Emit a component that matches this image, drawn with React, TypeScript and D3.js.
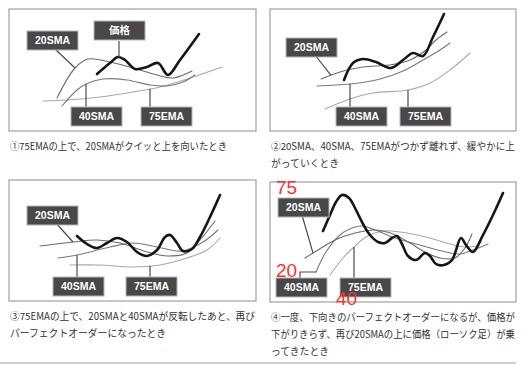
import React from 'react';
import * as d3 from 'd3';

type Pt = [number, number];

// series values, x = time, y = level (per panel, in panel units)
const p1Price: Pt[] = [[88, 57], [101, 68], [109, 74], [116, 71], [126, 62], [138, 64], [149, 68], [159, 56], [171, 71], [190, 97]];
const p1Sma20: Pt[] = [[48, 33], [66, 63], [79, 72], [101, 69], [124, 63], [148, 56], [164, 53], [183, 60]];
const p1Sma40: Pt[] = [[53, 25], [68, 41], [77, 47], [94, 52], [118, 51], [141, 46], [158, 45], [174, 49], [186, 56]];
const p1Ema75: Pt[] = [[34, 30], [58, 31], [91, 34], [124, 39], [151, 44], [184, 54], [213, 64]];

const p2Price: Pt[] = [[74, 51], [83, 68], [93, 72], [106, 69], [121, 63], [133, 71], [143, 78], [153, 75], [163, 94], [174, 117]];
const p2Sma20: Pt[] = [[51, 52], [70, 59], [93, 64], [120, 66], [140, 71], [156, 81], [166, 91], [177, 99]];
const p2Sma40: Pt[] = [[47, 45], [80, 47], [110, 52], [133, 60], [153, 71], [170, 81], [180, 88]];
const p2Ema75: Pt[] = [[55, 22], [80, 32], [103, 38], [138, 41], [160, 48], [180, 61], [200, 78]];

const p3Price: Pt[] = [[68, 65], [78, 57], [88, 53], [98, 58], [108, 63], [118, 59], [128, 49], [138, 45], [148, 51], [156, 64], [161, 66], [168, 58], [174, 50], [183, 52], [191, 64], [201, 84], [211, 106]];
const p3Sma20: Pt[] = [[31, 55], [64, 59], [88, 61], [111, 58], [138, 49], [158, 45], [178, 48], [191, 61], [206, 80]];
const p3Sma40: Pt[] = [[49, 43], [68, 46], [101, 54], [124, 58], [148, 54], [173, 50], [194, 59], [209, 71]];
const p3Ema75: Pt[] = [[61, 36], [91, 36], [124, 34], [151, 36], [178, 43], [198, 51], [211, 63]];

const p4Price: Pt[] = [[53, 71], [60, 87], [66, 100], [72, 107], [79, 104], [86, 92], [93, 78], [100, 67], [108, 60], [115, 59], [122, 64], [127, 66], [132, 58], [138, 46], [146, 42], [155, 49], [160, 46], [166, 38], [174, 37], [182, 42], [191, 64], [196, 57], [203, 50], [213, 67], [223, 87], [233, 109]];
const p4Sma20: Pt[] = [[35, 44], [48, 52], [65, 62], [85, 69], [105, 72], [123, 68], [140, 59], [155, 50], [170, 44], [185, 44], [195, 54], [202, 68]];
const p4Sma40: Pt[] = [[46, 30], [56, 50], [70, 67], [82, 74], [92, 76], [105, 72], [125, 64], [150, 57], [176, 50], [190, 48], [203, 52], [218, 58]];
const p4Ema75: Pt[] = [[60, 27], [73, 44], [84, 55], [96, 65], [113, 71], [130, 70], [156, 65], [180, 58], [195, 55], [208, 56]];

const captions1 = ['①75EMAの上で、20SMAがクイッと上を向いたとき'];
const captions2 = ['②20SMA、40SMA、75EMAがつかず離れず、緩やかに上', 'がっていくとき'];
const captions3 = ['③75EMAの上で、20SMAと40SMAが反転したあと、再び', 'パーフェクトオーダーになったとき'];
const captions4 = ['④一度、下向きのパーフェクトオーダーになるが、価格が', '下がりきらず、再び20SMAの上に価格（ローソク足）が乗', 'ってきたとき'];

const marks4 = ['75', '20', '40'];

type Key = 'price' | 'sma20' | 'sma40' | 'ema75';
const labelText: Record<Key, string> = { price: '価格', sma20: '20SMA', sma40: '40SMA', ema75: '75EMA' };

const styles: Record<Key, { stroke: string; width: number }> = {
  ema75: { stroke: '#a9a9a9', width: 1.1 },
  sma40: { stroke: '#7a7a7a', width: 1.1 },
  sma20: { stroke: '#6c6c6c', width: 1.1 },
  price: { stroke: '#161616', width: 2.6 },
};

type Label = { key: Key; box: [number, number]; from: [number, number]; at: number; elbow?: boolean };

const panels = [
  {
    frame: { left: 9, top: 9, width: 247, height: 122 },
    series: { price: p1Price, sma20: p1Sma20, sma40: p1Sma40, ema75: p1Ema75 },
    labels: [
      { key: 'sma20', box: [18, 22], from: [46, 40], at: 66 },
      { key: 'price', box: [85, 12], from: [110, 32], at: 110 },
      { key: 'sma40', box: [62, 98], from: [77, 98], at: 77 },
      { key: 'ema75', box: [132, 98], from: [141, 98], at: 141 },
    ] as Label[],
    captions: captions1,
    fits: [217],
  },
  {
    frame: { left: 270, top: 9, width: 246, height: 122 },
    series: { price: p2Price, sma20: p2Sma20, sma40: p2Sma40, ema75: p2Ema75 },
    labels: [
      { key: 'sma20', box: [16, 29], from: [45, 46], at: 61 },
      { key: 'sma40', box: [66, 98], from: [80, 98], at: 80 },
      { key: 'ema75', box: [130, 98], from: [138, 98], at: 138 },
    ] as Label[],
    captions: captions2,
    fits: [244, 0],
  },
  {
    frame: { left: 9, top: 180, width: 247, height: 121 },
    series: { price: p3Price, sma20: p3Sma20, sma40: p3Sma40, ema75: p3Ema75 },
    labels: [
      { key: 'sma20', box: [18, 26], from: [46, 42], at: 64 },
      { key: 'sma40', box: [44, 97], from: [68, 97], at: 68 },
      { key: 'ema75', box: [117, 97], from: [141, 97], at: 141 },
    ] as Label[],
    captions: captions3,
    fits: [245, 0],
  },
  {
    frame: { left: 270, top: 182, width: 246, height: 120 },
    series: { price: p4Price, sma20: p4Sma20, sma40: p4Sma40, ema75: p4Ema75 },
    labels: [
      { key: 'sma20', box: [8, 16], from: [32, 33], at: 43 },
      { key: 'sma40', box: [6, 96], from: [30, 96], at: 46, elbow: true },
      { key: 'ema75', box: [70, 96], from: [84, 96], at: 84 },
    ] as Label[],
    captions: captions4,
    fits: [244, 244, 0],
  },
];

const markPos: [number, number][] = [[276, 194], [276, 277], [336, 305]];

const boxW = 51;
const boxH = 19;

function valueAt(data: Pt[], t: number) {
  const xs = data.map(d => d[0]);
  const i = Math.max(1, Math.min(data.length - 1, d3.bisectLeft(xs, t)));
  const a = data[i - 1];
  const b = data[i];
  const k = (t - a[0]) / (b[0] - a[0]);
  return a[1] + (b[1] - a[1]) * k;
}

function Panel({ p }: { p: typeof panels[number] }) {
  const { left, top, width, height } = p.frame;
  const x = d3.scaleLinear().domain([0, width]).range([left, left + width]);
  const y = d3.scaleLinear().domain([0, height]).range([top + height, top]);
  const line = d3.line<Pt>().x(d => x(d[0])).y(d => y(d[1])).curve(d3.curveCatmullRom.alpha(0.5));
  const order: Key[] = ['ema75', 'sma40', 'sma20', 'price'];

  return (
    <g>
      <rect x={left} y={top} width={width} height={height} fill="#fff" stroke="#a0a0a0" strokeWidth={1.2} />
      {order.map(k => (
        <path key={k} d={line(p.series[k]) ?? ''} fill="none" stroke={styles[k].stroke}
          strokeWidth={styles[k].width} strokeLinecap="round" strokeLinejoin="round" />
      ))}
      {p.labels.map((l, i) => {
        const fx = left + l.from[0];
        const fy = top + l.from[1];
        const tx = x(l.at);
        const ty = y(valueAt(p.series[l.key], l.at));
        const pts = l.elbow ? `${fx},${fy} ${fx},${ty} ${tx},${ty}` : `${fx},${fy} ${tx},${ty}`;
        return <polyline key={'l' + i} points={pts} fill="none" stroke="#4a4a4a" strokeWidth={1.2} />;
      })}
      {p.labels.map((l, i) => (
        <g key={'b' + i} transform={`translate(${left + l.box[0]},${top + l.box[1]})`}>
          <rect width={boxW} height={boxH} fill="#484848" stroke="#b5b5b5" strokeWidth={1} />
          <text x={boxW / 2} y={boxH / 2 + 3.8} textAnchor="middle" fill="#fff" fontWeight="bold"
            fontSize={10.5} fontFamily="'Liberation Sans', 'Noto Sans CJK JP', sans-serif">
            {labelText[l.key]}
          </text>
        </g>
      ))}
      {p.captions.map((c, i) => (
        <text key={'c' + i} x={left + 1} y={top + height + 19 + i * 17} fill="#333" fontSize={9.8}
          fontFamily="'Noto Sans CJK JP', sans-serif"
          {...(p.fits[i] ? { textLength: p.fits[i], lengthAdjust: 'spacingAndGlyphs' } : {})}>
          {c}
        </text>
      ))}
    </g>
  );
}

export default function App() {
  return (
    <div style={{ position: 'absolute', left: 0, top: 0 }}>
      <svg width={527} height={365} style={{ display: 'block', background: '#fff' }}>
        {panels.map((p, i) => <Panel key={i} p={p} />)}
        <line x1={0} x2={516} y1={363} y2={363} stroke="#a0a0a0" strokeWidth={1.2} />
        {marks4.map((m, i) => (
          <text key={m} x={markPos[i][0]} y={markPos[i][1]} fill="#ff3030" fontSize={19}
            fontFamily="'Liberation Sans', sans-serif">{m}</text>
        ))}
      </svg>
    </div>
  );
}
